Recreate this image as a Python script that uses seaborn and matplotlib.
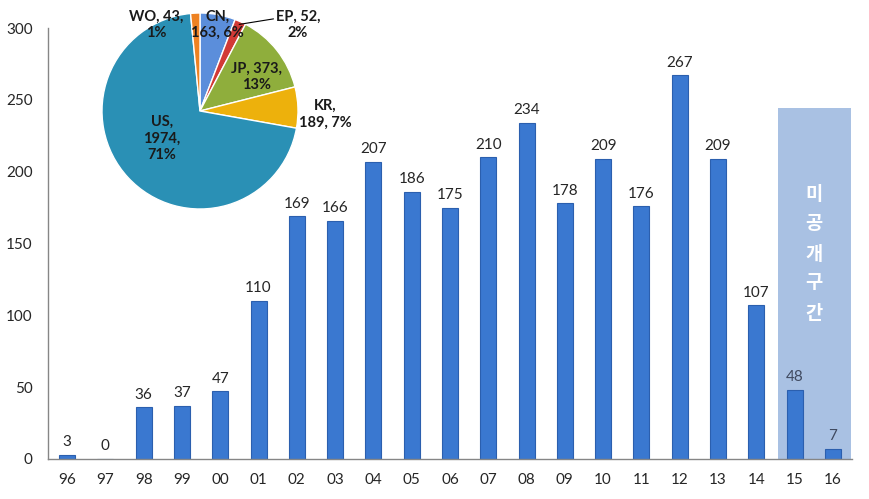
import matplotlib
matplotlib.use("Agg")
import matplotlib.pyplot as plt
import seaborn as sns
import pandas as pd
import numpy as np
from matplotlib.patches import Rectangle

years = ["96", "97", "98", "99", "00", "01", "02", "03", "04", "05", "06",
         "07", "08", "09", "10", "11", "12", "13", "14", "15", "16"]
counts = [3, 0, 36, 37, 47, 110, 169, 166, 207, 186, 175,
          210, 234, 178, 209, 176, 267, 209, 107, 48, 7]
undisclosed = ["15", "16"]
undisclosed_label = "미\n공\n개\n구\n간"

pie_names = ["CN", "EP", "JP", "KR", "US", "WO"]
pie_values = [163, 52, 373, 189, 1974, 43]
pie_pcts = [6, 2, 13, 7, 71, 1]
pie_colors = ["#5B8EDB", "#D23A36", "#8FAE3C", "#EDB10C", "#2A90B5", "#EE8222"]

sns.set_style("white")
plt.rcParams['font.family'] = ['Lato', 'Noto Sans CJK KR', 'DejaVu Sans']

df = pd.DataFrame({"year": years, "count": counts})

fig = plt.figure(figsize=(8.69, 4.99), dpi=100)
ax = fig.add_axes([48/869, 40/499, (852-48)/869, (459-28)/499])

# shaded undisclosed region
i0 = years.index(undisclosed[0]) - 0.42
i1 = years.index(undisclosed[-1]) + 0.47
ax.add_patch(Rectangle((i0, 0), i1 - i0, 244, facecolor="#A9C1E3",
                       edgecolor="none", zorder=0))

sns.barplot(data=df, x="year", y="count", order=years, color="#3A78D0",
            width=0.42, saturation=1, edgecolor="#2B5FAE", linewidth=0.8,
            ax=ax, zorder=2)

ax.set_ylim(0, 300)
ax.set_xlim(-0.5, len(years) - 0.5)
ax.set_yticks(range(0, 301, 50))
ax.set_xlabel("")
ax.set_ylabel("")
for s in ["top", "right"]:
    ax.spines[s].set_visible(False)
for s in ["left", "bottom"]:
    ax.spines[s].set_color("#868686")
    ax.spines[s].set_linewidth(1)
ax.tick_params(axis="y", length=5, color="#868686", labelsize=11, pad=6)
ax.tick_params(axis="x", which="major", length=0, labelsize=11, pad=10)
ax.set_xticks(np.arange(-0.5, len(years)), minor=True)
ax.tick_params(axis="x", which="minor", length=5, color="#868686")

labels = ax.bar_label(ax.containers[0], padding=4, fontsize=11)
for t, y in zip(labels, years):
    if y in undisclosed:
        t.set_color("#404a60")

cx = (years.index(undisclosed[0]) + years.index(undisclosed[-1])) / 2
ax.text(cx, 143, undisclosed_label, ha="center", va="center", color="white",
        fontsize=13.5, fontweight="bold", linespacing=1.85, zorder=3)

# pie inset
pax = fig.add_axes([102/869, (499-209)/499, 196/869, 196/499])
wedges, _ = pax.pie(pie_values, colors=pie_colors, startangle=90,
                    counterclock=False, radius=1.0)
pax.set_xlim(-1, 1)
pax.set_ylim(-1, 1)
pax.set_aspect("equal")

fmt = {
    "CN": "{n},\n{v}, {p}%",
    "EP": "{n}, {v},\n{p}%",
    "JP": "{n}, {v},\n{p}%",
    "KR": "{n},\n{v}, {p}%",
    "US": "{n},\n{v},\n{p}%",
    "WO": "{n}, {v},\n{p}%",
}
# label placement in pie coordinates
place = {
    "CN": (0.18, 0.88), "EP": (1.0, 0.88), "JP": (0.58, 0.35),
    "KR": (1.28, -0.03), "US": (-0.39, -0.28), "WO": (-0.45, 0.88),
}
for w, n, v, p in zip(wedges, pie_names, pie_values, pie_pcts):
    x, y = place[n]
    pax.text(x, y, fmt[n].format(n=n, v=v, p=p), ha="center", va="center",
             fontsize=10.5, fontweight="bold", color="#1a1a1a",
             linespacing=1.25, clip_on=False)
    if n == "EP":
        ang = np.deg2rad((w.theta1 + w.theta2) / 2)
        pax.plot([0.97*np.cos(ang), x - 0.25], [0.97*np.sin(ang), y + 0.06],
                 color="black", lw=0.8, clip_on=False)

fig.savefig("out.png", dpi=100)
